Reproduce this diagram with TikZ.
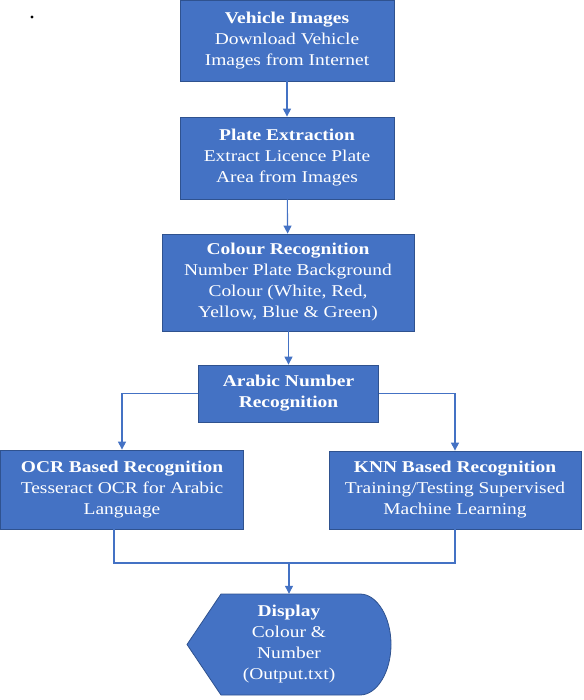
\documentclass[tikz,border=0pt]{standalone}
\usepackage{fontspec}
\setmainfont{Liberation Serif}[FakeStretch=1.18]
\usetikzlibrary{arrows.meta,calc}
\definecolor{boxblue}{HTML}{4472C4}
\definecolor{boxedge}{HTML}{2F528F}

\begin{document}
\begin{tikzpicture}[x=1pt,y=-1pt,
  stage/.style={rectangle, fill=boxblue, draw=boxedge, line width=0.8pt,
    text=white, align=center, inner sep=2pt,
    font=\fontsize{16.5}{21}\selectfont},
  link/.style={draw=boxblue, line width=1.1pt},
  flow/.style={link, -{Triangle[width=8pt,length=8pt]}}]
  \useasboundingbox (0,0) rectangle (583,700);

  \fill (32,17) circle (1.6pt);

  \node[stage, minimum width=214pt, minimum height=81pt] (img) at (287,40.5)
    {\textbf{Vehicle Images}\\Download Vehicle\\Images from Internet};
  \node[stage, minimum width=214pt, minimum height=82pt] (plate) at (287,158)
    {\textbf{Plate Extraction}\\Extract Licence Plate\\Area from Images};
  \node[stage, minimum width=252pt, minimum height=97pt] (colour) at (288,282.5)
    {\textbf{Colour Recognition}\\Number Plate Background\\Colour (White, Red,\\Yellow, Blue \& Green)};
  \node[stage, minimum width=180pt, minimum height=57pt] (arabic) at (288.5,393.5)
    {\textbf{Arabic Number}\\\textbf{Recognition}};
  \node[stage, minimum width=243pt, minimum height=79pt] (ocr) at (122,489.5)
    {\textbf{OCR Based Recognition}\\Tesseract OCR for Arabic\\Language};
  \node[stage, minimum width=252pt, minimum height=78pt] (knn) at (455,490)
    {\textbf{KNN Based Recognition}\\Training/Testing Supervised\\Machine Learning};

  % display terminal
  \filldraw[fill=boxblue, draw=boxedge, line width=0.8pt]
    (221,594) -- (360,594)
    .. controls (377,594) and (391,617) .. (391,644.5)
    .. controls (391,672) and (377,695) .. (360,695)
    -- (221,695) -- (187,644.5) -- cycle;
  \node[text=white, align=center, minimum height=101pt, inner sep=0pt,
    font=\fontsize{16.5}{21}\selectfont] (disp) at (289,644.5)
    {\textbf{Display}\\Colour \&\\Number\\(Output.txt)};

  \coordinate (join) at (289,563);

  \draw[flow] (img) -- (plate);
  \draw[flow] (plate) -- (colour);
  \draw[flow] (colour.south -| arabic.north) -- (arabic.north);
  \draw[flow] (arabic.west) -| (ocr.north);
  \draw[flow] (arabic.east) -| (knn.north);
  \draw[link] ([xshift=-8pt]ocr.south) |- (join) -| (knn.south);
  \draw[flow] (join) -- (disp.north);
\end{tikzpicture}
\end{document}
